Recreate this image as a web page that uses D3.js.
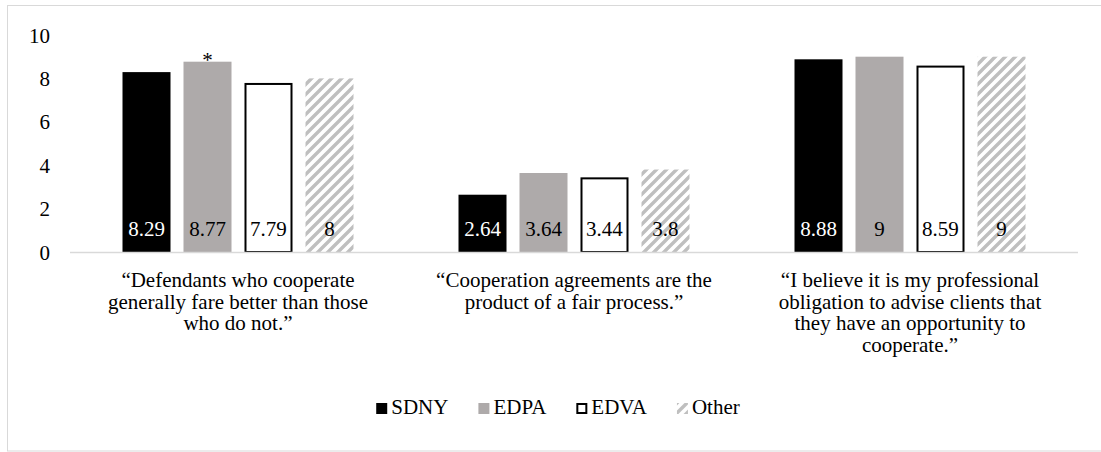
<!DOCTYPE html>
<html>
<head>
<meta charset="utf-8">
<script src="https://cdn.jsdelivr.net/npm/d3@7"></script>
<style>
  html, body { margin: 0; padding: 0; background: #fff; }
</style>
</head>
<body>
<svg id="chart" width="1101" height="452"></svg>
<script>
// statements shown under each group
const categories = [
    ["\u201CDefendants who cooperate", "generally fare better than those", "who do not.\u201D"],
    ["\u201CCooperation agreements are the", "product of a fair process.\u201D"],
    ["\u201CI believe it is my professional", "obligation to advise clients that", "they have an opportunity to", "cooperate.\u201D"]
];
const series = ["SDNY", "EDPA", "EDVA", "Other"];
const SDNY = [8.29, 2.64, 8.88];
const EDPA = [8.77, 3.64, 9];
const EDVA = [7.79, 3.44, 8.59];
const Other = [8, 3.8, 9];
const yTicks = [0, 2, 4, 6, 8, 10];
const starred = [{ cat: 0, key: "EDPA" }];  // significance mark

const values = { SDNY, EDPA, EDVA, Other };

let margin = { top: 35, right: 23, bottom: 200, left: 70 };
let width = 1101, height = 452;
const FONT = "'Liberation Serif'";
const FS = "21px";

const svg = d3.select("#chart");

// frame round the chart
svg.append("rect")
    .attr("x", 7.5).attr("y", 5.5)
    .attr("width", 1100).attr("height", 445.5)
    .attr("fill", "none").attr("stroke", "#d9d9d9");

// hatch for "Other"
const defs = svg.append("defs");
const pat = defs.append("pattern")
    .attr("id", "hatch")
    .attr("patternUnits", "userSpaceOnUse")
    .attr("width", 10).attr("height", 10);
pat.append("path")
    .attr("d", "M-2.5,2.5 l5,-5 M0,10 l10,-10 M7.5,12.5 l5,-5")
    .attr("stroke", "#bfbfbf")
    .attr("stroke-width", 3.4);

const x = d3.scaleBand()
    .domain(d3.range(categories.length))
    .range([margin.left, width - margin.right])
    .padding(0);

const xInner = d3.scaleBand()
    .domain(series)
    .range([(x.bandwidth() - 231) / 2, (x.bandwidth() + 231) / 2])
    .paddingInner(0.213)
    .paddingOuter(0);

const y = d3.scaleLinear()
    .domain([0, 10])
    .range([height - margin.bottom, margin.top]);

const fills = { SDNY: "#000000", EDPA: "#aeaaaa", EDVA: "#ffffff", Other: "url(#hatch)" };
const labelColor = { SDNY: "#ffffff", EDPA: "#000", EDVA: "#000", Other: "#000" };

// y axis labels (no line, no ticks)
svg.append("g").selectAll("text")
    .data(yTicks)
    .join("text")
    .attr("x", 50)
    .attr("y", d => y(d) + 7.5)
    .attr("text-anchor", "end")
    .style("font-family", FONT)
    .style("font-size", FS)
    .text(d => d);

// bars
const groups = svg.append("g").selectAll("g")
    .data(categories.map((c, i) => i))
    .join("g")
    .attr("transform", i => "translate(" + x(i) + ",0)");

groups.selectAll("rect")
    .data(i => series.map(k => ({ key: k, value: values[k][i] })))
    .join("rect")
    .attr("x", d => xInner(d.key) + (d.key === "EDVA" ? 1 : 0))
    .attr("y", d => y(d.value) + (d.key === "EDVA" ? 1 : 0))
    .attr("width", d => xInner.bandwidth() - (d.key === "EDVA" ? 2 : 0))
    .attr("height", d => y(0) - y(d.value) - (d.key === "EDVA" ? 1 : 0))
    .attr("fill", d => fills[d.key])
    .attr("stroke", d => d.key === "EDVA" ? "#000" : "none")
    .attr("stroke-width", 2);

// baseline
svg.append("line")
    .attr("x1", margin.left).attr("x2", width - margin.right)
    .attr("y1", y(0) + 0.5).attr("y2", y(0) + 0.5)
    .attr("stroke", "#d9d9d9").attr("stroke-width", 1.5);

// value labels near the bottom of each bar
groups.selectAll("text.val")
    .data(i => series.map(k => ({ key: k, value: values[k][i] })))
    .join("text")
    .attr("class", "val")
    .attr("x", d => xInner(d.key) + xInner.bandwidth() / 2)
    .attr("y", y(0) - 16)
    .attr("text-anchor", "middle")
    .style("font-family", FONT)
    .style("font-size", FS)
    .style("fill", d => labelColor[d.key])
    .text(d => d.value);

// asterisk
svg.append("g").selectAll("text")
    .data(starred)
    .join("text")
    .attr("x", d => x(d.cat) + xInner(d.key) + xInner.bandwidth() / 2)
    .attr("y", d => y(values[d.key][d.cat]) + 5)
    .attr("text-anchor", "middle")
    .style("font-family", FONT)
    .style("font-size", FS)
    .text("*");

// category labels
const cat = svg.append("g").selectAll("text")
    .data(categories)
    .join("text")
    .attr("text-anchor", "middle")
    .style("font-family", FONT)
    .style("font-size", FS);
cat.selectAll("tspan")
    .data((lines, i) => lines.map(l => ({ l, i })))
    .join("tspan")
    .attr("x", d => x(d.i) + x.bandwidth() / 2)
    .attr("y", (d, j) => 287 + j * 21.7)
    .text(d => d.l);

// legend, centred under the chart
const legend = svg.append("g").attr("transform", "translate(0,403)");
const items = legend.selectAll("g")
    .data(series)
    .join("g");
items.append("rect")
    .attr("x", d => d === "EDVA" ? 1 : 0)
    .attr("y", d => d === "EDVA" ? 1 : 0)
    .attr("width", d => d === "EDVA" ? 9 : 11)
    .attr("height", d => d === "EDVA" ? 9 : 11)
    .attr("fill", d => fills[d])
    .attr("stroke", d => d === "EDVA" ? "#000" : "none")
    .attr("stroke-width", 2);
items.append("text")
    .attr("x", 15)
    .attr("y", 11)
    .style("font-family", FONT)
    .style("font-size", FS)
    .text(d => d);

let pos = 0;
const gap = 30;
const offsets = [];
items.each(function () {
    offsets.push(pos);
    pos += 15 + this.querySelector("text").getComputedTextLength() + gap;
});
const total = pos - gap;
const start = 558 - total / 2;
items.attr("transform", (d, i) => "translate(" + (start + offsets[i]) + ",0)");
</script>
</body>
</html>
